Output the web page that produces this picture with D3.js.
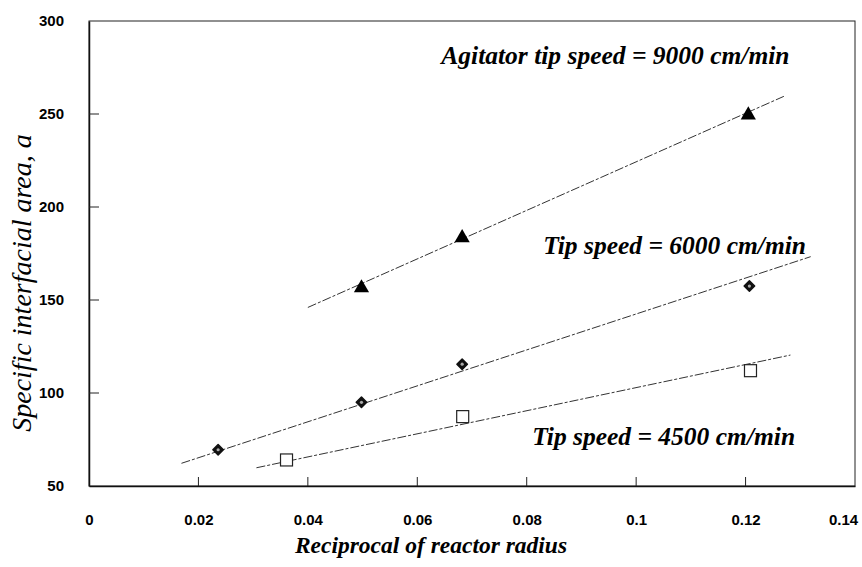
<!DOCTYPE html>
<html><head><meta charset="utf-8">
<script src="https://cdn.jsdelivr.net/npm/d3@7"></script>
<style>body{margin:0;background:#fff}svg{display:block}</style>
</head><body>
<svg id="c" width="862" height="567"></svg>
<script>
// ---- data ----
const xTickValues = [0, 0.02, 0.04, 0.06, 0.08, 0.1, 0.12, 0.14];
const xTickLabels = ["0", "0.02", "0.04", "0.06", "0.08", "0.1", "0.12", "0.14"];
const yTickValues = [50, 100, 150, 200, 250, 300];

const x9000 = [0.0498, 0.0682, 0.1205];
const y9000 = [157, 184, 250];
const x6000 = [0.0236, 0.0498, 0.0682, 0.1207];
const y6000 = [69.5, 95, 115.5, 157.5];
const x4500 = [0.0361, 0.0683, 0.1209];
const y4500 = [64, 87.3, 112];

// trend lines (start/end)
const fit9000X = [0.0400, 0.1270], fit9000Y = [146, 259.5];
const fit6000X = [0.0169, 0.1319], fit6000Y = [62.2, 173.3];
const fit4500X = [0.0306, 0.1282], fit4500Y = [59.8, 120.4];

const labels = ["Agitator tip speed = 9000 cm/min", "Tip speed = 6000 cm/min", "Tip speed = 4500 cm/min"];
const labelPosX = [0.0644, 0.0830, 0.0810];
const labelPosY = [277, 175, 72];

const xTitle = "Reciprocal of reactor radius";
const yTitle = "Specific interfacial area, a";

// ---- drawing ----
const svg = d3.select("#c");
const L = 89, R = 855, T = 21, B = 486;
const x = d3.scaleLinear().domain([0, 0.14]).range([L, R]);
const y = d3.scaleLinear().domain([50, 300]).range([B, T]);

// frame
svg.append("rect").attr("x", L).attr("y", T).attr("width", R - L).attr("height", B - T)
  .attr("fill", "none").attr("stroke", "#222").attr("stroke-width", 1);

const xAxis = d3.axisBottom(x).tickValues(xTickValues).tickSize(0).tickPadding(28)
  .tickFormat((d, i) => xTickLabels[i]);
const gx = svg.append("g").attr("transform", `translate(0,${B})`).call(xAxis);
gx.select(".domain").attr("stroke", "#111").attr("stroke-width", 1.5);
gx.selectAll("text").attr("font-family", "Liberation Sans, Arial, sans-serif")
  .attr("font-weight", "bold").attr("font-size", 15).attr("fill", "#000");
gx.selectAll(".tick").filter(d => d === 0.14).select("text").attr("dx", -12);
// inward ticks
svg.append("g").selectAll("line").data(xTickValues.slice(1, -1)).join("line")
  .attr("x1", d => x(d)).attr("x2", d => x(d)).attr("y1", B).attr("y2", B - 9)
  .attr("stroke", "#222").attr("stroke-width", 1);

const yAxis = d3.axisLeft(y).tickValues(yTickValues).tickSize(0).tickPadding(25);
const gy = svg.append("g").attr("transform", `translate(${L},0)`).call(yAxis);
gy.select(".domain").attr("stroke", "#111").attr("stroke-width", 1.5);
gy.selectAll("text").attr("font-family", "Liberation Sans, Arial, sans-serif")
  .attr("font-weight", "bold").attr("font-size", 15).attr("fill", "#000");
svg.append("g").selectAll("line").data(yTickValues.slice(1, -1)).join("line")
  .attr("x1", L).attr("x2", L + 10).attr("y1", d => y(d)).attr("y2", d => y(d))
  .attr("stroke", "#222").attr("stroke-width", 1);

// fit lines
const fits = [[fit9000X, fit9000Y], [fit6000X, fit6000Y], [fit4500X, fit4500Y]];
const line = d3.line().x(d => x(d[0])).y(d => y(d[1]));
fits.forEach(([fx, fy]) => {
  svg.append("path").datum(fx.map((v, i) => [v, fy[i]])).attr("d", line)
    .attr("fill", "none").attr("stroke", "#333").attr("stroke-width", 1)
    .attr("stroke-dasharray", "9,2,3,2");
});

// markers
const tri = d3.symbol().type(d3.symbolTriangle).size(100);
svg.append("g").selectAll("path").data(x9000.map((v, i) => [v, y9000[i]])).join("path")
  .attr("d", tri).attr("transform", d => `translate(${x(d[0])},${y(d[1]) + 1})`).attr("fill", "#000");

const dia = d3.symbol().type(d3.symbolSquare).size(55);
const gd = svg.append("g").selectAll("g").data(x6000.map((v, i) => [v, y6000[i]])).join("g")
  .attr("transform", d => `translate(${x(d[0])},${y(d[1])})`);
gd.append("path").attr("d", dia).attr("transform", "rotate(45)").attr("fill", "#111")
  .attr("stroke", "#111").attr("stroke-width", 1.5).attr("stroke-linejoin", "round");
gd.append("circle").attr("r", 1.6).attr("fill", "#aaa");

svg.append("g").selectAll("rect").data(x4500.map((v, i) => [v, y4500[i]])).join("rect")
  .attr("x", d => x(d[0]) - 6).attr("y", d => y(d[1]) - 6).attr("width", 12).attr("height", 12)
  .attr("fill", "#fff").attr("stroke", "#222").attr("stroke-width", 1.2);

// annotations
svg.append("g").selectAll("text").data(labels).join("text")
  .attr("x", (d, i) => x(labelPosX[i])).attr("y", (d, i) => y(labelPosY[i]))
  .attr("font-family", "Liberation Serif, Times New Roman, serif")
  .attr("font-style", "italic").attr("font-weight", "bold").attr("font-size", 25.5)
  .attr("fill", "#000").text(d => d);

// axis titles
svg.append("text").attr("x", 431).attr("y", 553).attr("text-anchor", "middle")
  .attr("font-family", "Liberation Serif, Times New Roman, serif").attr("font-style", "italic")
  .attr("font-weight", "bold").attr("font-size", 23.5).attr("fill", "#000").text(xTitle);
svg.append("text").attr("transform", `translate(31,${283}) rotate(-90)`).attr("text-anchor", "middle")
  .attr("font-family", "Liberation Serif, Times New Roman, serif").attr("font-style", "italic")
  .attr("font-size", 28).attr("fill", "#000").text(yTitle);
</script>
</body></html>
